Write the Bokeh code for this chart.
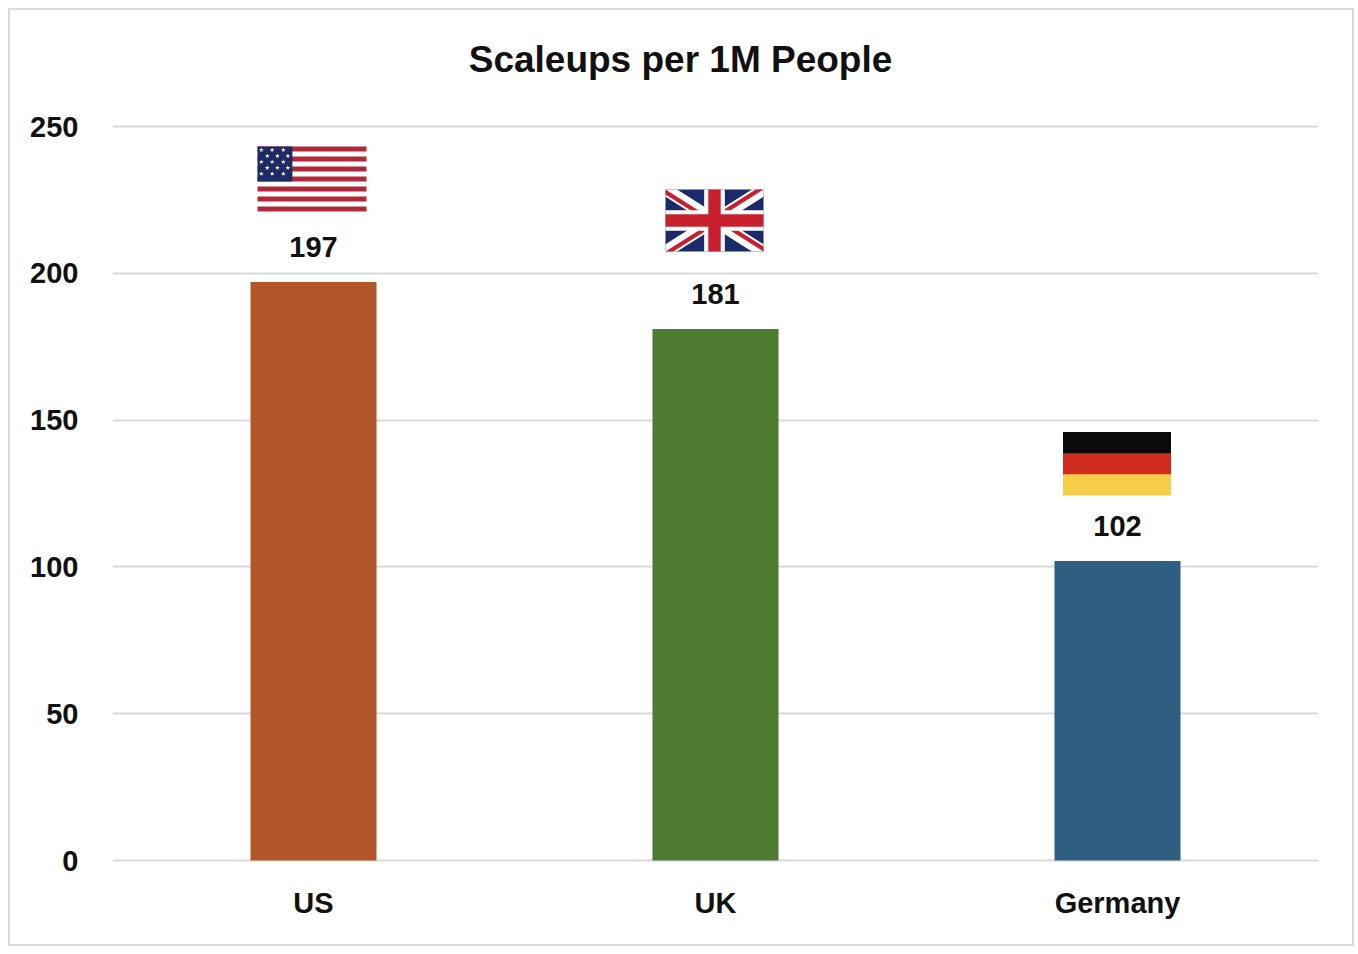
import math
from bokeh.plotting import figure
from bokeh.models import FactorRange, Range1d, FixedTicker
from bokeh.core.properties import value
from bokeh.embed import file_html
from bokeh.resources import INLINE

# ---------------- data ----------------
title_text = "Scaleups per 1M People"
countries = ["US", "UK", "Germany"]
scaleups = [197, 181, 102]
bar_colors = ["#B1572A", "#4D7C31", "#2E5F80"]
y_ticks = [0, 50, 100, 150, 200, 250]

# ---------------- layout ----------------
W, H = 1346, 938
Y_MAX = 250
PX_Y = 734 / Y_MAX          # pixels per unit
PAD_BOTTOM = 2.0            # px below 0 so the baseline gridline is fully visible
TOP_SPACE = 116.0           # px above 250 (room for the title, inside the frame)
ML, MB = 102, 86
FW = 1206
MR = W - ML - FW
PX_X = FW / len(countries)
FONT = "Liberation Sans"
TXT = "#111111"

p = figure(width=W, height=H,
           x_range=FactorRange(factors=countries),
           y_range=Range1d(-PAD_BOTTOM / PX_Y, Y_MAX + TOP_SPACE / PX_Y),
           output_backend="svg", toolbar_location=None,
           min_border=0, min_border_left=ML, min_border_top=0,
           min_border_right=MR, min_border_bottom=MB)
p.title.text = ""
p.title.visible = False
p.styles = {"border": "2px solid #d9d9d9", "margin": "8px"}
p.outline_line_color = None
p.background_fill_color = "white"
p.border_fill_color = "white"

p.yaxis.ticker = FixedTicker(ticks=y_ticks)
for ax in (p.xaxis, p.yaxis):
    ax.axis_line_color = None
    ax.major_tick_line_color = None
    ax.minor_tick_line_color = None
    ax.major_tick_out = 0
    ax.major_tick_in = 0
    ax.major_label_text_font = FONT
    ax.major_label_text_font_style = "bold"
    ax.major_label_text_font_size = "29px"
    ax.major_label_text_color = TXT
p.yaxis.major_label_standoff = 34
p.xaxis.major_label_standoff = 24

p.xgrid.grid_line_color = None
p.ygrid.grid_line_color = "#d9d9d9"
p.ygrid.grid_line_width = 2

# chart title, centred over the whole chart box (page x ~680)
p.text(x=[(568.0) / PX_X], y=[Y_MAX + 67 / PX_Y], text=[title_text],
       text_align="center", text_baseline="alphabetic", text_font=value(FONT),
       text_font_style="bold", text_font_size="37px", text_color=TXT)

p.vbar(x=countries, top=scaleups, width=126 / PX_X, color=bar_colors, line_color=None)

p.text(x=countries, y=[v + 35 / PX_Y for v in scaleups], text=[str(v) for v in scaleups],
       text_align="center", text_baseline="middle", text_font=value(FONT),
       text_font_style="bold", text_font_size="29px", text_color=TXT)

# ---------------- flags (drawn in pixel units relative to bar top) ----------------
# dx offset from bar centre, width, gap above bar top, height  (pixels)
FLAG_LAYOUT = {"US": (-1.5, 109, 70.6, 65), "UK": (-1.0, 98, 77.6, 62), "Germany": (-0.5, 108, 65.5, 63.5)}


def clip(poly, x0, y0, x1, y1):
    def edge(pts, inside, inter):
        out = []
        for i in range(len(pts)):
            cur, prev = pts[i], pts[i - 1]
            if inside(cur):
                if not inside(prev):
                    out.append(inter(prev, cur))
                out.append(cur)
            elif inside(prev):
                out.append(inter(prev, cur))
        return out

    def ix(xc):
        return lambda a, b: (xc, a[1] + (b[1] - a[1]) * (xc - a[0]) / (b[0] - a[0]))

    def iy(yc):
        return lambda a, b: (a[0] + (b[0] - a[0]) * (yc - a[1]) / (b[1] - a[1]), yc)

    pts = list(poly)
    for ins, it in ((lambda q: q[0] >= x0, ix(x0)), (lambda q: q[0] <= x1, ix(x1)),
                    (lambda q: q[1] >= y0, iy(y0)), (lambda q: q[1] <= y1, iy(y1))):
        if not pts:
            break
        pts = edge(pts, ins, it)
    return pts


def band(a, b, o0, o1, ext=0.0):
    (ax_, ay_), (bx_, by_) = a, b
    L = math.hypot(bx_ - ax_, by_ - ay_)
    dx, dy = (bx_ - ax_) / L, (by_ - ay_) / L
    nx, ny = -dy, dx
    sa = (ax_ - dx * ext, ay_ - dy * ext)
    sb = (bx_ + dx * ext, by_ + dy * ext)
    return [(sa[0] + nx * o0, sa[1] + ny * o0), (sb[0] + nx * o0, sb[1] + ny * o0),
            (sb[0] + nx * o1, sb[1] + ny * o1), (sa[0] + nx * o1, sa[1] + ny * o1)]


def rect(x0, y0, x1, y1):
    return [(x0, y0), (x1, y0), (x1, y1), (x0, y1)]


def flag_shapes(name, w, h):
    shapes = []  # (polygon in local px, colour)
    hw = w / 2
    stars = []
    if name == "Germany":
        shapes.append((rect(-hw, 0, hw, h), "#F4CE46"))
        shapes.append((rect(-hw, h / 3, hw, h), "#CC2B1D"))
        shapes.append((rect(-hw, 2 * h / 3, hw, h), "#0A0A0A"))
    elif name == "UK":
        u = h / 30
        shapes.append((rect(-hw, 0, hw, h), "#1B2A6B"))
        for a, b in (((-hw, 0), (hw, h)), ((-hw, h), (hw, 0))):
            shapes.append((clip(band(a, b, -3 * u, 3 * u, 20), -hw, 0, hw, h), "white"))
        c = (0, h / 2)
        quads = [((-hw, h), (-hw, h / 2, 0, h)), ((hw, h), (0, h / 2, hw, h)),
                 ((hw, 0), (0, 0, hw, h / 2)), ((-hw, 0), (-hw, 0, 0, h / 2))]
        for k, q in quads:
            shapes.append((clip(band(c, k, 0, 2 * u, 20), *q), "#C8202F"))
        shapes.append((rect(-hw, h / 2 - 5 * u, hw, h / 2 + 5 * u), "white"))
        shapes.append((rect(-5 * u, 0, 5 * u, h), "white"))
        shapes.append((rect(-hw, h / 2 - 3 * u, hw, h / 2 + 3 * u), "#C8202F"))
        shapes.append((rect(-3 * u, 0, 3 * u, h), "#C8202F"))
    else:
        s = h / 13
        shapes.append((rect(-hw, 0, hw, h), "white"))
        for i in range(0, 13, 2):
            shapes.append((rect(-hw, h - (i + 1) * s, hw, h - i * s), "#B02A3C"))
        cw = 0.32 * w
        ch = 7 * s
        shapes.append((rect(-hw, h - ch, -hw + cw, h), "#1E2A62"))
        fx = [[0.11, 0.42, 0.74], [0.28, 0.57, 0.87]]
        fy = [0.10, 0.27, 0.44, 0.61, 0.78]
        for r, yy in enumerate(fy):
            for xx in fx[r % 2]:
                stars.append((-hw + xx * cw, h - yy * ch))
    return shapes, stars


for i, (name, v) in enumerate(zip(countries, scaleups)):
    dxp, wp, gap, hp = FLAG_LAYOUT[name]
    shapes, stars = flag_shapes(name, wp, hp)
    cx = i + 0.5

    def tx(px):
        return cx + (dxp + px) / PX_X

    def ty(py):
        return v + (gap + py) / PX_Y

    xs = [[tx(q[0]) for q in poly] for poly, _ in shapes]
    ys = [[ty(q[1]) for q in poly] for poly, _ in shapes]
    cols = [c for _, c in shapes]
    p.patches(xs=xs, ys=ys, fill_color=cols, line_color=None)
    if stars:
        p.scatter(x=[tx(s[0]) for s in stars], y=[ty(s[1]) for s in stars], marker="star",
                  size=5, fill_color="white", line_color=None)

open("out.html", "w").write(file_html(p, INLINE))
